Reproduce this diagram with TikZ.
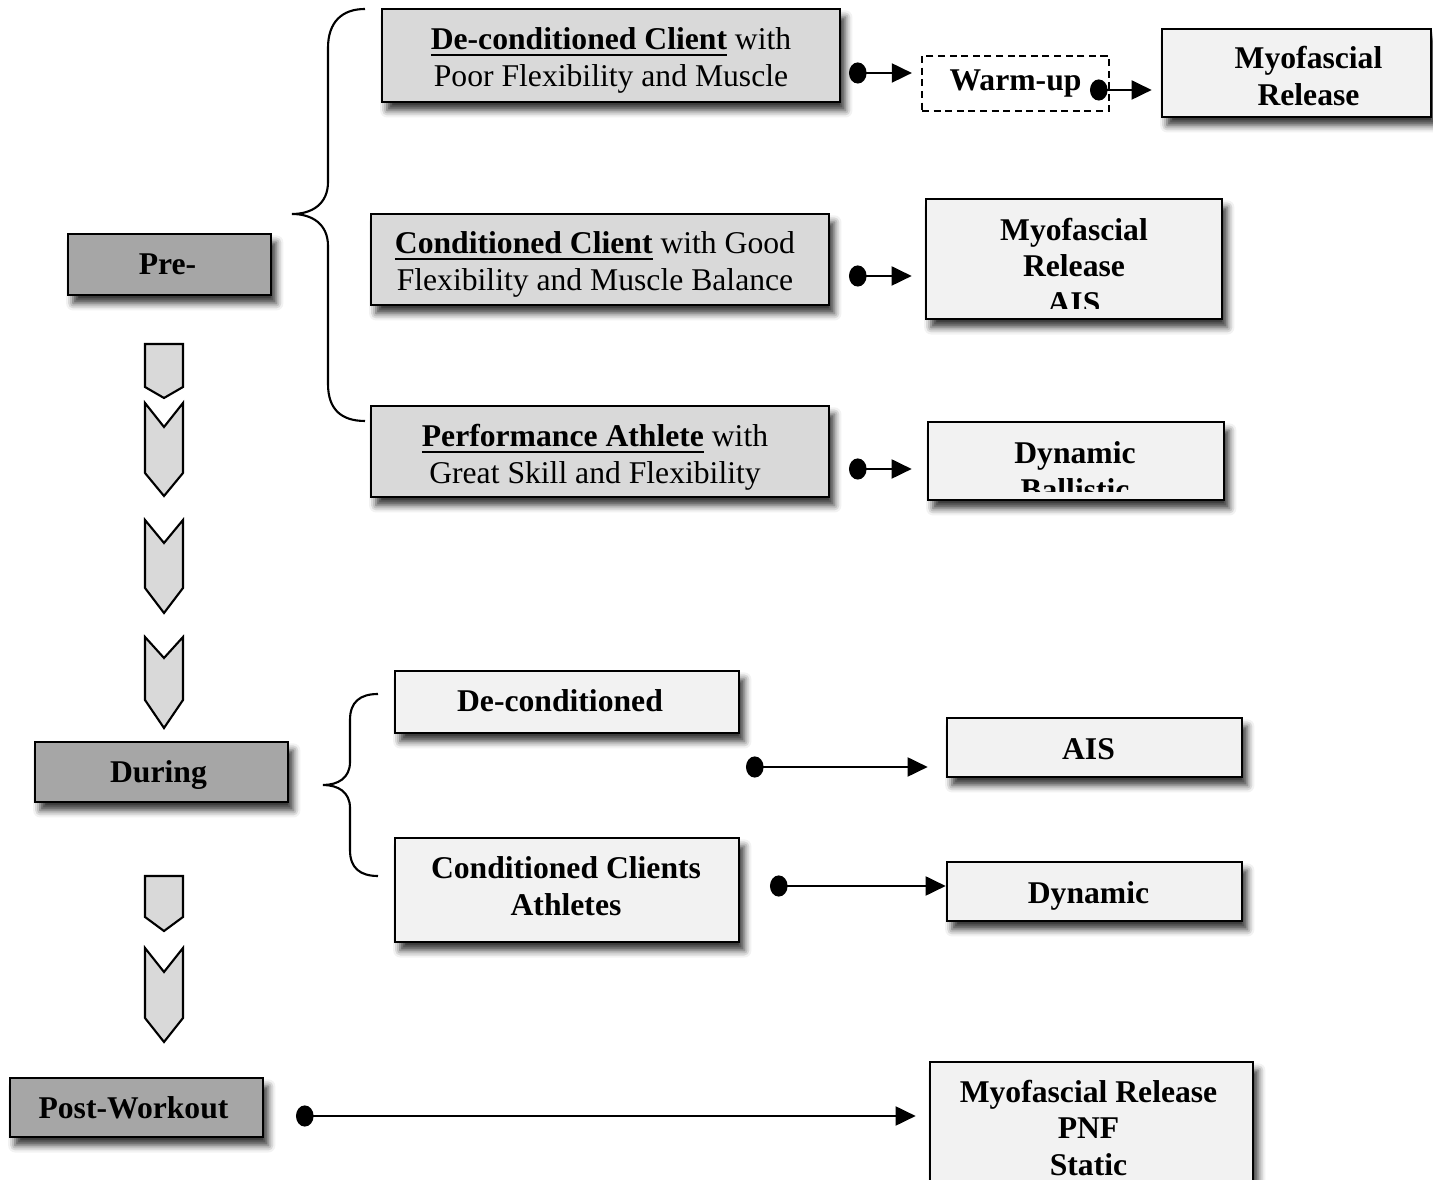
\documentclass[tikz,border=0pt]{standalone}
\usepackage{fontspec}
\setmainfont{Liberation Serif}
\usepackage{tikz}
\usetikzlibrary{arrows.meta,shadows.blur}

\begin{document}
\begin{tikzpicture}[
  x=0.01cm, y=-0.01cm,
  txt/.style={font=\fontsize{9}{10.5}\selectfont,align=center,inner sep=0pt},
  lbl/.style={txt,font=\fontsize{9}{10.5}\selectfont\bfseries},
  shade/.style={blur shadow={shadow xshift=1.5pt,shadow yshift=-2.4pt,
                shadow blur radius=2pt,shadow opacity=80}},
  box/.style={rectangle,draw=black,line width=0.7pt,inner sep=0pt,shade},
  phase/.style={box,fill=black!35},
  client/.style={box,fill=black!15},
  method/.style={box,fill=black!5},
  link/.style={{Circle[length=5pt,width=6pt]}-{Triangle[length=5.7pt,width=5.4pt]},line width=0.6pt},
  chev/.style={draw=black,line width=0.6pt,fill=black!15,line join=miter},
  curly/.style={draw,line width=0.6pt}
]
  \useasboundingbox (0,0) rectangle (1433,1180);

  % phases
  \node[phase,minimum width=2.03cm,minimum height=0.61cm] (pre) at (169.5,264.5) {};
  \node[lbl] (pretxt) at ([shift={(-2,0)}]pre.center) {Pre-};
  \node[phase,minimum width=2.53cm,minimum height=0.60cm] (during) at (161.5,772) {};
  \node[lbl] (duringtxt) at ([shift={(-3,3)}]during.center) {During};
  \node[phase,minimum width=2.53cm,minimum height=0.59cm] (post) at (136.5,1107.5) {};
  \node[lbl] (posttxt) at ([shift={(-3,0)}]post.center) {Post-Workout};

  % chevrons between phases
  \foreach \t/\n/\s/\p in {344/344/387/398, 403/427/473/496, 520/543/588/613,
                           637/658/700/728, 876/876/917/931, 948/972/1018/1042}
    \draw[chev] (145,\t) -- (164,\n) -- (183,\t) -- (183,\s) -- (164,\p) -- (145,\s) -- cycle;

  % pre-workout clients
  \node[client,minimum width=4.58cm,minimum height=0.93cm] (decond) at (611,55.5) {};
  \node[txt] (decondtxt) at ([shift={(0,5)}]decond.center)
    {\underline{\textbf{De-conditioned Client}} with\\Poor Flexibility and Muscle};
  \node[client,minimum width=4.58cm,minimum height=0.91cm] (cond) at (600,259.5) {};
  \node[txt] (condtxt) at ([shift={(-5,5)}]cond.center)
    {\underline{\textbf{Conditioned Client}} with Good\\Flexibility and Muscle Balance};
  \node[client,minimum width=4.58cm,minimum height=0.91cm] (perf) at (600,451.5) {};
  \node[txt] (perftxt) at ([shift={(-5,6)}]perf.center)
    {\underline{\textbf{Performance Athlete}} with\\Great Skill and Flexibility};

  % brace over the three clients
  \draw[curly] (365,9) .. controls (342,9) and (328,22) .. (328,48) -- (328,182)
    .. controls (328,204) and (312,214) .. (292,214)
    .. controls (312,214) and (328,224) .. (328,246) -- (328,384)
    .. controls (328,410) and (342,421) .. (365,421);

  % pre-workout methods
  \node[draw=black,line width=0.6pt,dash pattern=on 2pt off 1.3pt,fill=white,
        minimum width=1.87cm,minimum height=0.55cm,lbl] (warm) at (1015.5,83.5) {Warm-up};
  \node[method,minimum width=2.69cm,minimum height=0.88cm] (mfr) at (1296.5,73) {};
  \node[lbl] (mfrtxt) at ([shift={(12,3)}]mfr.center) {Myofascial\\Release};
  \node[method,minimum width=2.96cm,minimum height=1.20cm] (mfrais) at (1074,259) {};
  \begin{scope}
    \clip (mfrais.north west) rectangle ([yshift=0.12cm]mfrais.south east);
    \node[lbl] (mfraistxt) at (1074,266) {Myofascial\\Release\\AIS};
  \end{scope}
  \node[method,minimum width=2.96cm,minimum height=0.78cm] (dynball) at (1076,461) {};
  \begin{scope}
    \clip (dynball.north west) rectangle ([yshift=0.10cm]dynball.south east);
    \node[lbl] (dynballtxt) at (1075,471) {Dynamic\\Ballistic};
  \end{scope}

  % during
  \node[method,minimum width=3.44cm,minimum height=0.62cm] (dec2) at (567,702) {};
  \node[lbl] (dec2txt) at ([shift={(-7,-1)}]dec2.center) {De-conditioned};
  \node[method,minimum width=3.44cm,minimum height=1.04cm] (condath) at (567,890) {};
  \node[lbl] (condathtxt) at ([shift={(-1,-4)}]condath.center) {Conditioned Clients\\Athletes};
  \draw[curly] (378,694) .. controls (360,694) and (350,702) .. (350,720) -- (350,762)
    .. controls (350,778) and (338,785) .. (323,785)
    .. controls (338,785) and (350,792) .. (350,808) -- (350,850)
    .. controls (350,868) and (360,876) .. (378,876);
  \node[method,minimum width=2.95cm,minimum height=0.59cm] (ais) at (1094.5,747.5) {};
  \node[lbl] (aistxt) at ([shift={(-6,2)}]ais.center) {AIS};
  \node[method,minimum width=2.95cm,minimum height=0.59cm] (dyn) at (1094.5,891.5) {};
  \node[lbl] (dyntxt) at ([shift={(-6,4)}]dyn.center) {Dynamic};

  % post
  \node[method,minimum width=3.23cm,minimum height=1.40cm] (mfrpnf) at (1091.5,1132) {};
  \node[lbl] (mfrpnftxt) at (1088.5,1128) {Myofascial Release\\PNF\\Static};

  % connectors
  \coordinate (d1) at (849,73);
  \coordinate (d2) at (1090,90);
  \coordinate (d3) at (849,276);
  \coordinate (d4) at (849,469);
  \coordinate (d5) at (746,767);
  \coordinate (d6) at (770,886);
  \coordinate (d7) at (296,1116);
  \draw[link,shorten >=0.09cm] (d1) -- (warm.west |- d1);
  \draw[link,shorten >=0.09cm] (d2) -- (mfr.west |- d2);
  \draw[link,shorten >=0.13cm] (d3) -- (mfrais.west |- d3);
  \draw[link,shorten >=0.15cm] (d4) -- (dynball.west |- d4);
  \draw[link,shorten >=0.18cm] (d5) -- (ais.west |- d5);
  \draw[link] (d6) -- (dyn.west |- d6);
  \draw[link,shorten >=0.13cm] (d7) -- (mfrpnf.west |- d7);
\end{tikzpicture}
\end{document}
